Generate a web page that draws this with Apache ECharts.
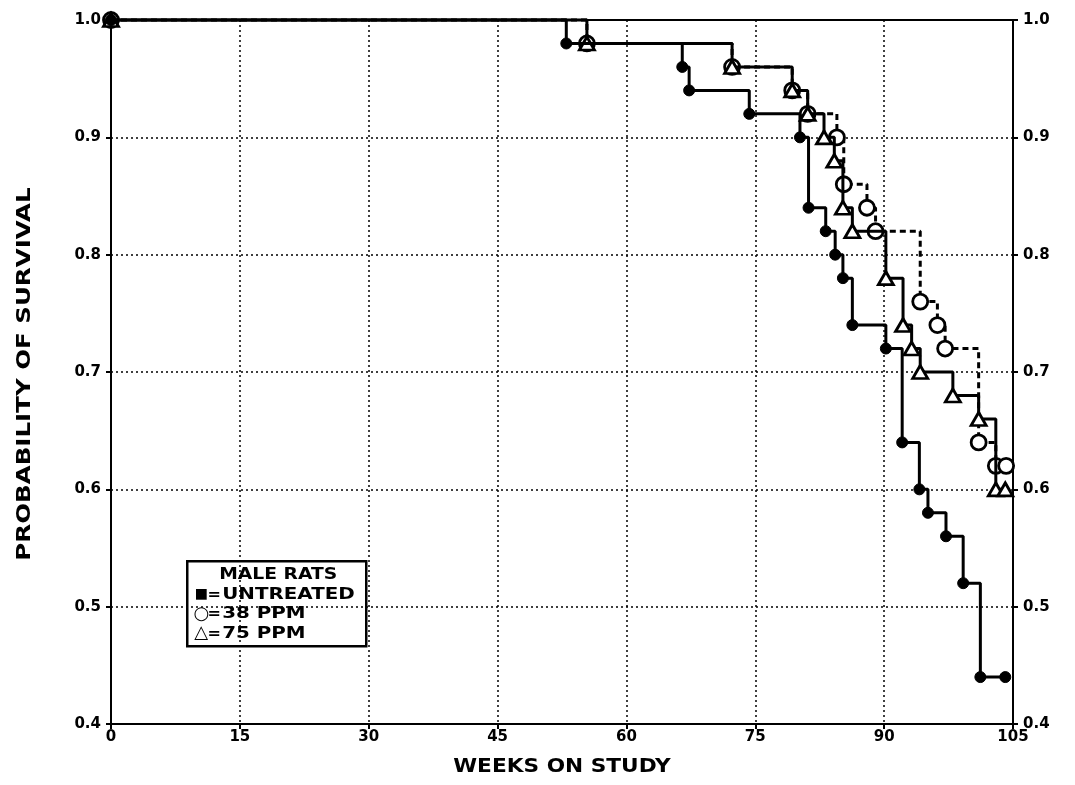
<!DOCTYPE html>
<html>
<head>
<meta charset="utf-8">
<script src="https://cdn.jsdelivr.net/npm/echarts@6/dist/echarts.min.js"></script>
<style>
  html, body { margin: 0; padding: 0; background: #fff; }
  #chart { width: 1075px; height: 785px; }
</style>
</head>
<body>
<div id="chart"></div>
<script>
// ---------- data ----------
const xTicks = [0, 15, 30, 45, 60, 75, 90, 105];
const yTicks = [0.4, 0.5, 0.6, 0.7, 0.8, 0.9, 1.0];

const weeksUntreated = [0, 53, 66.5, 67.3, 74.3, 80.2, 81.2, 83.2, 84.3, 85.2, 86.3, 90.2, 92.1, 94.1, 95.1, 97.2, 99.2, 101.2, 104.1];
const survUntreated  = [1.0, 0.98, 0.96, 0.94, 0.92, 0.90, 0.84, 0.82, 0.80, 0.78, 0.74, 0.72, 0.64, 0.60, 0.58, 0.56, 0.52, 0.44, 0.44];

const weeks38 = [0, 55.4, 72.3, 79.3, 81.1, 84.5, 85.3, 88, 89, 94.2, 96.2, 97.1, 101, 103, 104.2];
const surv38  = [1.0, 0.98, 0.96, 0.94, 0.92, 0.90, 0.86, 0.84, 0.82, 0.76, 0.74, 0.72, 0.64, 0.62, 0.62];

const weeks75 = [0, 55.4, 72.3, 79.3, 81.1, 83, 84.2, 85.2, 86.3, 90.2, 92.2, 93.2, 94.2, 98, 101, 103, 104.1];
const surv75  = [1.0, 0.98, 0.96, 0.94, 0.92, 0.90, 0.88, 0.84, 0.82, 0.78, 0.74, 0.72, 0.70, 0.68, 0.66, 0.60, 0.60];

const xTitle = 'WEEKS ON STUDY';
const yTitle = 'PROBABILITY OF SURVIVAL';
const legendTitle = 'MALE RATS';
const legendSymbols = ['\u25A0', '\u25CB', '\u25B3'];
const legendNames = ['UNTREATED', '38 PPM', '75 PPM'];

const FONT = '"DejaVu Sans", sans-serif';
const pairs = (xs, ys) => xs.map((x, i) => [x, ys[i]]);

const chart = echarts.init(document.getElementById('chart'));

const yAxisBase = {
  type: 'value', min: 0.4, max: 1.0, interval: 0.1,
  axisLine: { show: true, lineStyle: { color: '#000', width: 2 } },
  axisTick: { show: true, inside: false, length: 5, lineStyle: { color: '#000', width: 2 } },
  axisLabel: { color: '#000', fontFamily: FONT, fontWeight: 'bold', fontSize: 15, margin: 10,
               formatter: v => v.toFixed(1) }
};

// legend box built by hand, like the plotter original (wide lettering via scaleX)
const legendItems = [
  { type: 'rect', shape: { x: 0, y: 0, width: 179, height: 85 },
    style: { fill: '#fff', stroke: '#000', lineWidth: 2.5 } },
  { type: 'text', x: 91, y: 14, scaleX: 1.17,
    style: { text: legendTitle, fill: '#000', font: 'bold 16px ' + FONT,
             textAlign: 'center', textVerticalAlign: 'middle' } }
];
legendNames.forEach((name, i) => {
  const y = 33.5 + i * 19.5;
  const symSize = i === 0 ? 14 : 18;
  legendItems.push(
    { type: 'text', x: 14, y: y,
      style: { text: legendSymbols[i], fill: '#000', font: 'bold ' + symSize + 'px ' + FONT,
               textAlign: 'center', textVerticalAlign: 'middle' } },
    { type: 'text', x: 27, y: y,
      style: { text: '=', fill: '#000', font: 'bold 16px ' + FONT,
               textAlign: 'center', textVerticalAlign: 'middle' } },
    { type: 'text', x: 35, y: y, scaleX: 1.24,
      style: { text: name, fill: '#000', font: 'bold 16px ' + FONT,
               textAlign: 'left', textVerticalAlign: 'middle' } }
  );
});

chart.setOption({
  animation: false,
  backgroundColor: '#fff',
  grid: { left: 111, right: 62, top: 20, bottom: 61, show: true, borderColor: '#000', borderWidth: 2 },
  xAxis: {
    type: 'value', min: 0, max: 105, interval: 15,
    axisLine: { show: true, lineStyle: { color: '#000', width: 2 } },
    axisTick: { show: true, length: 5, lineStyle: { color: '#000', width: 2 } },
    axisLabel: { color: '#000', fontFamily: FONT, fontWeight: 'bold', fontSize: 15, margin: 6,
                 showMinLabel: true, showMaxLabel: true },
    splitLine: { show: true, lineStyle: { color: '#000', type: [2, 3], width: 1.5 } }
  },
  yAxis: [
    Object.assign({}, yAxisBase, {
      position: 'left',
      splitLine: { show: true, lineStyle: { color: '#000', type: [2, 3], width: 1.5 } }
    }),
    Object.assign({}, yAxisBase, {
      position: 'right',
      splitLine: { show: false }
    })
  ],
  series: [
    {
      name: '38 PPM', type: 'line', step: 'end', clip: false,
      data: pairs(weeks38, surv38),
      symbol: 'circle', symbolSize: 15,
      lineStyle: { color: '#000', width: 3, type: [6, 4] },
      itemStyle: { color: '#fff', borderColor: '#000', borderWidth: 2.8 },
      z: 2
    },
    {
      name: '75 PPM', type: 'line', step: 'end', clip: false,
      data: pairs(weeks75, surv75),
      symbol: 'triangle', symbolSize: [15, 13],
      lineStyle: { color: '#000', width: 3 },
      itemStyle: { color: '#fff', borderColor: '#000', borderWidth: 2.8 },
      z: 3
    },
    {
      name: 'UNTREATED', type: 'line', step: 'end', clip: false,
      data: pairs(weeksUntreated, survUntreated),
      symbol: 'circle', symbolSize: 11,
      lineStyle: { color: '#000', width: 3 },
      itemStyle: { color: '#000', borderColor: '#000', borderWidth: 1 },
      z: 4
    }
  ],
  graphic: [
    { type: 'group', left: 186, top: 560, children: legendItems },
    { type: 'text', x: 562, y: 767, scaleX: 1.14,
      style: { text: xTitle, fill: '#000', font: 'bold 19px ' + FONT,
               textAlign: 'center', textVerticalAlign: 'middle' } },
    { type: 'text', x: 25, y: 374, rotation: Math.PI / 2, scaleX: 1.29,
      style: { text: yTitle, fill: '#000', font: 'bold 19px ' + FONT,
               textAlign: 'center', textVerticalAlign: 'middle' } }
  ]
});
</script>
</body>
</html>
